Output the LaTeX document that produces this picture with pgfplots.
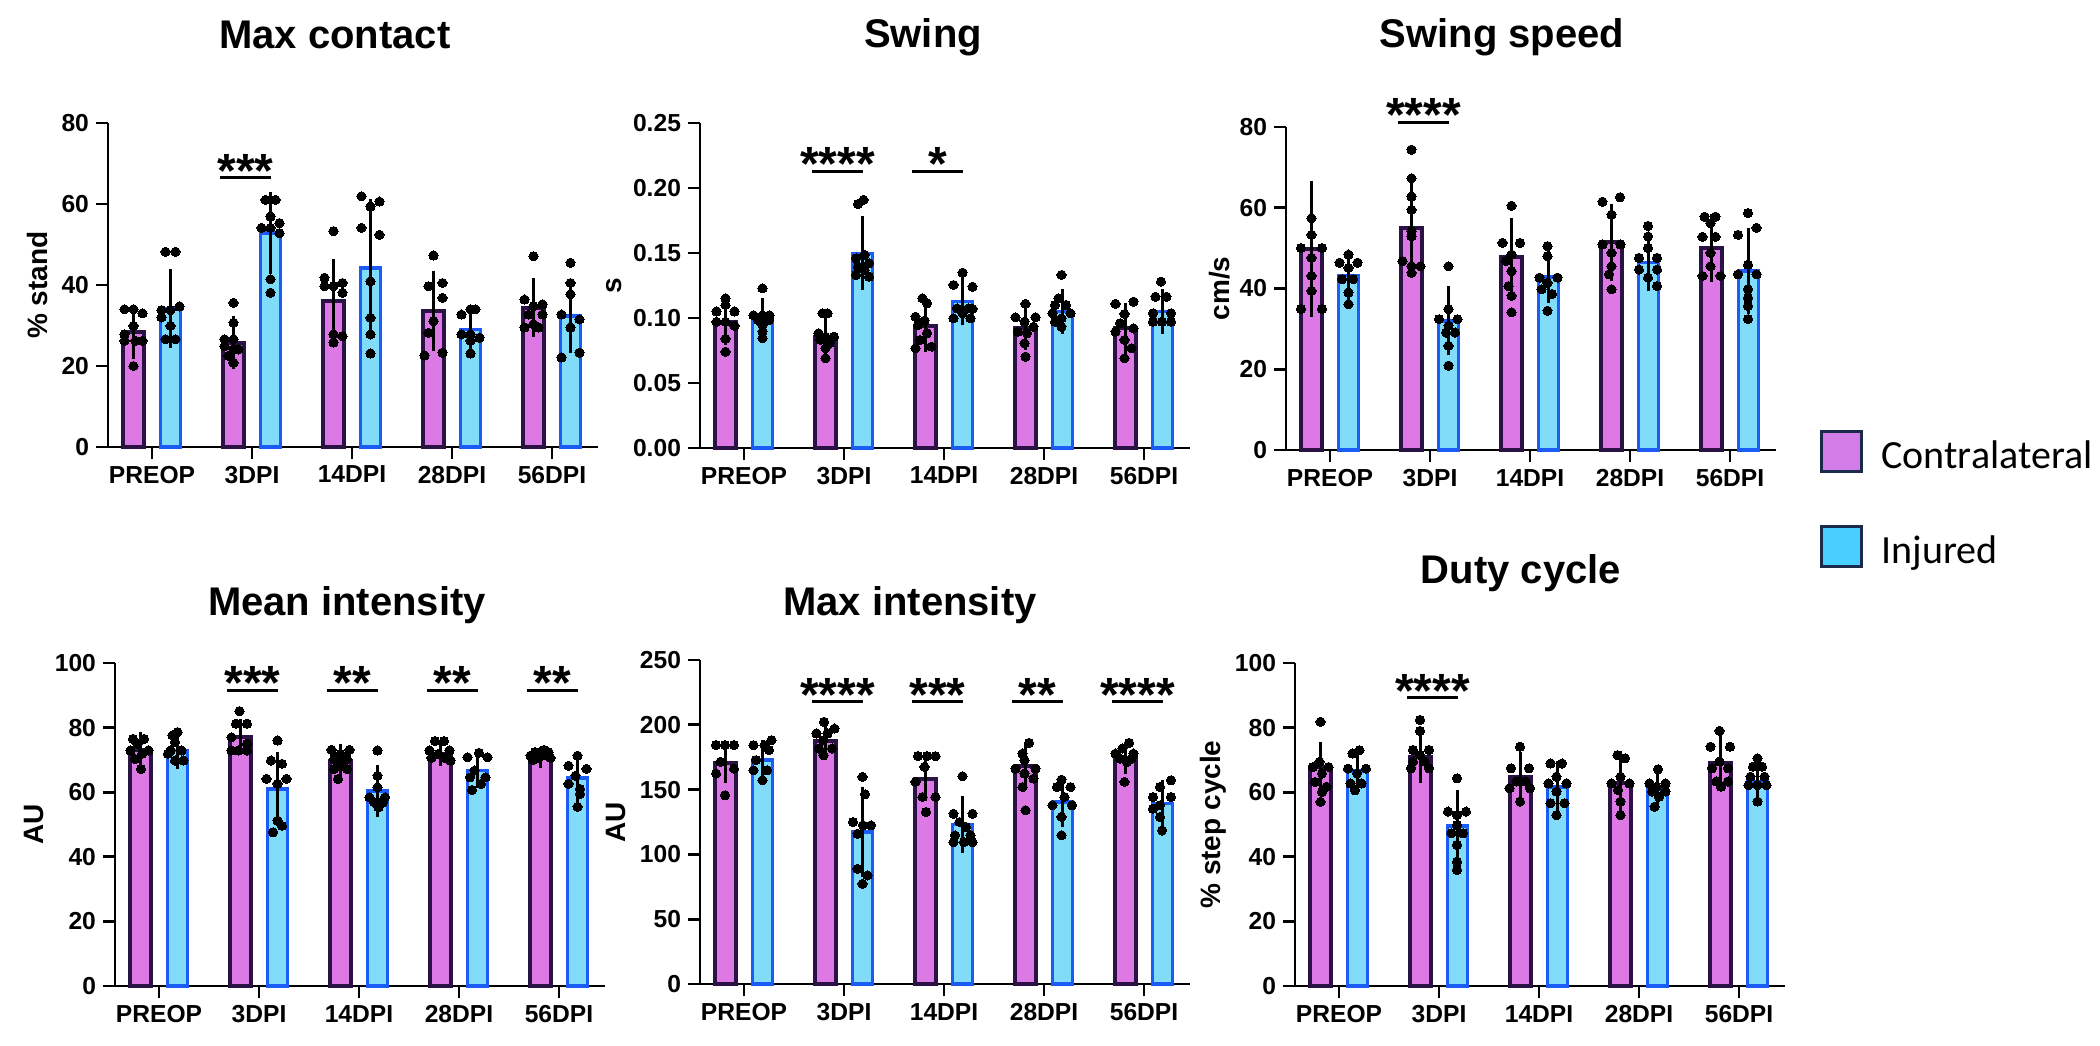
\documentclass[border=0pt]{standalone}
\usepackage{fontspec}
\setmainfont{Liberation Sans}
\newfontfamily\carlito{Carlito}
\usepackage{pgfplots}
\pgfplotsset{compat=1.18}
\usepackage{pgfplotstable}

\definecolor{cfill}{HTML}{DC79E5}
\definecolor{cedge}{HTML}{2A1244}
\definecolor{ifill}{HTML}{80DCF8}
\definecolor{iedge}{HTML}{1A5CF5}
\definecolor{legc}{HTML}{D27CE8}
\definecolor{legi}{HTML}{48CFFD}
\definecolor{legedge}{HTML}{1B2A4A}

% bar tables: bar positions, contralateral mean/sd, injured mean/sd
\pgfplotstableread{
xc xi c cs i is
-0.185 0.185 28.4 5.0 34.2 8.0
0.815 1.185 25.8 4.9 52.8 8.4
1.815 2.185 36.0 8.6 44.2 15.2
2.815 3.185 33.6 8.2 29.0 4.1
3.815 4.185 34.4 5.5 32.3 7.4
}\maxcontact
\pgfplotstableread{
xc xi c cs i is
-0.185 0.185 0.0972 0.0128 0.0985 0.0115
0.815 1.185 0.0856 0.0108 0.1497 0.0231
1.815 2.185 0.0938 0.0142 0.1126 0.0128
2.815 3.185 0.0920 0.0116 0.1049 0.0120
3.815 4.185 0.0920 0.0142 0.1049 0.0120
}\swing
\pgfplotstableread{
xc xi c cs i is
-0.185 0.185 49.8 15.0 43.2 4.4
0.815 1.185 55.0 10.6 32.0 6.8
1.815 2.185 47.8 8.0 42.9 4.7
2.815 3.185 51.4 7.9 46.4 5.3
3.815 4.185 50.0 6.6 44.3 9.0
}\swingspeed
\pgfplotstableread{
xc xi c cs i is
-0.185 0.185 73.1 3.4 72.9 3.6
0.815 1.185 77.2 3.3 61.0 9.3
1.815 2.185 69.6 3.3 60.3 5.9
2.815 3.185 71.9 1.5 66.7 3.3
3.815 4.185 70.8 1.1 64.4 5.2
}\meanint
\pgfplotstableread{
xc xi c cs i is
-0.185 0.185 170.6 9.8 172.7 10.3
0.815 1.185 187.6 9.5 117.3 29.6
1.815 2.185 158.5 11.6 123.2 16.5
2.815 3.185 168.0 12.4 140.4 14.2
3.815 4.185 174.7 7.0 139.2 12.8
}\maxint
\pgfplotstableread{
xc xi c cs i is
-0.185 0.185 67.8 5.7 66.6 4.3
0.815 1.185 71.0 6.0 49.5 9.1
1.815 2.185 64.6 5.6 61.7 5.7
2.815 3.185 62.9 7.6 60.9 2.9
3.815 4.185 69.1 6.5 63.3 4.1
}\duty

\pgfplotsset{
  panel/.style={
    scale only axis, width=245pt, anchor=south west,
    axis lines*=left, axis line style={line width=1.4pt, black},
    tick align=outside, major tick length=6pt,
    tick style={line width=1.4pt, black},
    xmin=-0.44, xmax=4.46, ymin=0,
    xtick={0,1,2,3,4}, xticklabels={PREOP,3DPI,14DPI,28DPI,56DPI},
    ticklabel style={font=\fontsize{12.3}{14}\selectfont\bfseries},
    /pgf/number format/assume math mode=true,
    scaled y ticks=false,
    clip=false,
  },
  ylab/.style={every axis y label/.style={at={(axis description cs:#1,0.5)},
    rotate=90, anchor=center, font=\fontsize{14}{16}\selectfont\bfseries}},
  dots/.style={only marks, mark=*, mark size=2.3pt, black,
    mark options={fill=black, draw=black, line width=0pt}, forget plot},
  errs/.style={draw=none, mark=none, forget plot,
    error bars/.cd, y dir=both, y explicit,
    error bar style={line width=1.1pt, black, solid},
    error mark options={line width=1.1pt, black, mark size=3.5pt, solid}},
}

\newcommand{\bars}[1]{%
  \addplot[ybar, bar width=0.21, bar shift=0pt, fill=cfill, draw=cedge,
    line width=2pt, forget plot] table[x=xc, y=c] {#1};
  \addplot[ybar, bar width=0.2, bar shift=0pt, fill=ifill, draw=iedge,
    line width=1.8pt, forget plot] table[x=xi, y=i] {#1};
  \addplot[errs] table[x=xc, y=c, y error=cs] {#1};
  \addplot[errs] table[x=xi, y=i, y error=is] {#1};
}
% significance bar: left, right, centre, height, stars
\newcommand{\sig}[5]{%
  \draw[line width=1.5pt] (axis cs:#1,#4) -- (axis cs:#2,#4);
  \node[anchor=base, yshift=-4.8pt, inner sep=0pt,
    font=\fontsize{24}{24}\selectfont\bfseries] at (axis cs:#3,#4) {#5};
}

\begin{document}
\begin{tikzpicture}
\useasboundingbox (0,0) rectangle (1050pt,-522.5pt);

\tikzset{ttl/.style={anchor=base, inner sep=0pt, font=\fontsize{20}{22}\selectfont\bfseries}}
\node[ttl] at (167.5pt,-24pt) {Max contact};
\node[ttl] at (461.5pt,-23.5pt) {Swing};
\node[ttl] at (751pt,-23.5pt) {Swing speed};
\node[ttl] at (173.5pt,-307.5pt) {Mean intensity};
\node[ttl] at (455pt,-307.5pt) {Max intensity};
\node[ttl] at (760.5pt,-291.5pt) {Duty cycle};

% Max contact
\begin{axis}[panel, at={(54pt,-223.5pt)}, height=162pt, ymax=80,
  ytick={0,20,40,60,80}, ylabel={\% stand}, ylab=-0.143]
\bars{\maxcontact}
\addplot[dots] coordinates {
(-0.275,34) (-0.185,34) (-0.095,33) (-0.185,29.9) (-0.275,27.8) (-0.275,26.2) (-0.165,26.2) (-0.095,26.2) (-0.185,20)
(0.815,35.6) (0.815,30.7) (0.725,26.6) (0.815,26.6) (0.725,24.9) (0.815,24.1) (0.865,24.1) (0.765,22.5) (0.815,20.8)
(1.815,53.3) (1.725,41.8) (1.905,40.5) (1.725,39.7) (1.815,39.7) (1.905,38.1) (1.815,27.8) (1.905,27.4) (1.815,25.8)
(2.815,47.3) (2.765,39.7) (2.905,40.5) (2.905,36.8) (2.815,31.1) (2.765,28.2) (2.905,23.3) (2.725,22.6)
(3.815,47.1) (3.725,36.4) (3.905,35.2) (3.765,32.7) (3.905,32.7) (3.815,30.3) (3.725,29.5) (3.865,29.5) (3.815,34.8)
};
\addplot[dots] coordinates {
(0.135,48.2) (0.235,48.2) (0.275,34.7) (0.095,33.8) (0.185,33.8) (0.095,32) (0.185,29.9) (0.135,26.6) (0.235,26.6)
(1.135,61) (1.235,61) (1.185,56.9) (1.275,55.3) (1.095,54.1) (1.185,54.1) (1.275,52.8) (1.185,41.4) (1.185,38.1)
(2.095,61.9) (2.275,60.6) (2.185,59.4) (2.095,54.1) (2.275,52.4) (2.185,40.9) (2.185,31.9) (2.185,27.8) (2.185,23.1)
(3.185,34) (3.235,34) (3.095,32.7) (3.095,27.8) (3.185,27.8) (3.275,27) (3.185,26.2) (3.185,23.1)
(4.185,45.5) (4.185,40.5) (4.185,37.7) (4.095,32.7) (4.275,31.5) (4.185,29.5) (4.275,23.3) (4.095,22.1)
};
\sig{0.68}{1.19}{0.935}{66.5}{***}
\end{axis}

% Swing
\begin{axis}[panel, at={(350pt,-224pt)}, height=162.5pt, ymax=0.25,
  ytick={0,0.05,0.1,0.15,0.2,0.25},
  yticklabel style={/pgf/number format/.cd, fixed, fixed zerofill, precision=2},
  ylabel={s}, ylab=-0.175]
\bars{\swing}
\addplot[dots] coordinates {
(-0.185,0.115) (-0.185,0.110) (-0.275,0.105) (-0.095,0.105) (-0.185,0.097) (-0.275,0.097) (-0.095,0.094) (-0.185,0.084) (-0.185,0.074)
(0.785,0.1036) (0.835,0.1036) (0.745,0.0882) (0.815,0.0856) (0.900,0.0856) (0.765,0.0831) (0.855,0.0805) (0.815,0.0767) (0.815,0.069)
(1.785,0.1151) (1.830,0.1113) (1.715,0.101) (1.805,0.098) (1.740,0.0946) (1.830,0.0882) (1.760,0.0831) (1.875,0.078) (1.715,0.0767)
(2.815,0.1108) (2.715,0.1005) (2.915,0.1005) (2.805,0.0972) (2.895,0.0933) (2.740,0.0895) (2.830,0.0882) (2.805,0.0805) (2.815,0.0703)
(3.715,0.1108) (3.895,0.1126) (3.805,0.1031) (3.760,0.0959) (3.895,0.092) (3.715,0.0895) (3.805,0.0831) (3.875,0.0767) (3.805,0.069)
};
\addplot[dots] coordinates {
(0.185,0.1228) (0.095,0.102) (0.185,0.102) (0.255,0.102) (0.140,0.0985) (0.250,0.0985) (0.185,0.0946) (0.185,0.0895) (0.185,0.0844)
(1.195,0.1908) (1.140,0.1877) (1.205,0.1485) (1.120,0.1459) (1.250,0.1421) (1.140,0.1395) (1.205,0.1369) (1.120,0.1331) (1.250,0.1318)
(2.185,0.1349) (2.095,0.1254) (2.285,0.1241) (2.130,0.1074) (2.245,0.1074) (2.185,0.1036) (2.095,0.0997) (2.265,0.0997) (2.285,0.107)
(3.175,0.1331) (3.145,0.1151) (3.110,0.11) (3.220,0.11) (3.085,0.1036) (3.265,0.1036) (3.175,0.0997) (3.110,0.0972) (3.175,0.0933)
(4.170,0.128) (4.115,0.1164) (4.225,0.1164) (4.090,0.1036) (4.270,0.1036) (4.090,0.0972) (4.180,0.0972) (4.270,0.0972)
};
\sig{0.68}{1.19}{0.935}{0.213}{****}
\sig{1.68}{2.19}{1.935}{0.213}{*}
\end{axis}

% Swing speed (with legend)
\begin{axis}[panel, at={(643pt,-225pt)}, height=161.5pt, ymax=80,
  ytick={0,20,40,60,80}, ylabel={cm/s}, ylab=-0.135,
  legend style={at={(1.0898,0.0619)}, anchor=north west, draw=none, fill=none,
    inner sep=0pt, row sep=26pt, column sep=9pt,
    nodes={inner sep=0pt, text depth=0pt},
    font=\carlito\fontsize{20}{22}\selectfont},
  legend cell align=left]
\bars{\swingspeed}
\addplot[dots] coordinates {
(-0.185,57.4) (-0.185,53.3) (-0.290,50) (-0.080,50) (-0.185,47.6) (-0.185,43.1) (-0.185,39.4) (-0.290,34.9) (-0.080,34.9)
(0.815,74.4) (0.815,67.3) (0.815,62.8) (0.815,59.5) (0.815,54.2) (0.815,52.9) (0.725,46.8) (0.815,45.5) (0.905,45.5) (0.815,43.9)
(1.815,60.5) (1.725,51.3) (1.900,51.3) (1.815,48.4) (1.760,46.8) (1.815,44.3) (1.785,40.6) (1.815,38.2) (1.815,34.1)
(2.725,61.5) (2.900,62.6) (2.815,58.3) (2.725,50.9) (2.905,50.9) (2.815,48.8) (2.815,45.5) (2.790,43.5) (2.815,39.8)
(3.745,57.8) (3.855,57.8) (3.805,56.2) (3.725,52.8) (3.855,52.8) (3.805,48.8) (3.805,45.5) (3.725,43.1) (3.905,43.1)
};
\addplot[dots] coordinates {
(0.185,48.4) (0.095,46.4) (0.275,46.4) (0.185,45.1) (0.120,42.3) (0.230,42.3) (0.185,39) (0.185,36.1)
(1.185,45.5) (1.185,34.9) (1.090,32.4) (1.275,32.4) (1.185,30.8) (1.160,29.1) (1.250,29.1) (1.185,25.8) (1.185,20.9)
(2.175,50.5) (2.175,48) (2.095,42.7) (2.275,42.7) (2.175,41.4) (2.115,39.8) (2.220,38.6) (2.175,34.5)
(3.180,55.5) (3.180,52.9) (3.180,50) (3.090,47.6) (3.270,47.6) (3.090,44.7) (3.270,44.7) (3.180,42.7) (3.270,40.6)
(4.180,58.7) (4.265,55) (4.080,53.3) (4.180,45.9) (4.080,43.5) (4.265,43.5) (4.180,39.8) (4.180,37.7) (4.180,35.7) (4.180,32.4)
};
\sig{0.68}{1.19}{0.935}{81.2}{****}
\addlegendimage{legend image code/.code={\draw[line width=1.5pt, draw=legedge, fill=legc] (0pt,-8.5pt) rectangle (20pt,11.5pt);}}
\addlegendentry{Contralateral}
\addlegendimage{legend image code/.code={\draw[line width=1.5pt, draw=legedge, fill=legi] (0pt,-8.5pt) rectangle (20pt,11.5pt);}}
\addlegendentry{Injured}
\end{axis}

% Mean intensity
\begin{axis}[panel, at={(57.5pt,-493pt)}, height=161.5pt, ymax=100,
  ytick={0,20,40,60,80,100}, ylabel={AU}, ylab=-0.166]
\bars{\meanint}
\addplot[dots] coordinates {
(-0.260,76.5) (-0.150,76.5) (-0.215,75) (-0.285,72.9) (-0.105,72.9) (-0.170,71.9) (-0.240,70.3) (-0.180,67.2)
(0.805,85.1) (0.770,81.2) (0.880,81.2) (0.725,77) (0.880,75) (0.725,72.9) (0.795,72.9) (0.880,72.9)
(1.725,73.1) (1.905,73.1) (1.815,71.9) (1.750,70.3) (1.880,70.3) (1.815,68.8) (1.750,67.2) (1.880,67.2) (1.790,64.1)
(2.760,75.8) (2.850,75.8) (2.705,72.9) (2.905,72.9) (2.795,71.9) (2.725,70.6) (2.860,70.6) (2.915,69.8)
(3.850,73.1) (3.760,72.4) (3.895,72.4) (3.715,71.3) (3.830,71.3) (3.785,70.6) (3.915,70.6) (3.740,70)
};
\addplot[dots] coordinates {
(0.185,78.6) (0.135,77.6) (0.160,75.5) (0.115,72.9) (0.225,72.9) (0.090,71.9) (0.160,69.8) (0.245,69.8)
(1.185,76) (1.120,69.8) (1.230,68.8) (1.075,64.1) (1.275,64.1) (1.185,62.6) (1.185,51.2) (1.230,49.6) (1.140,47.6)
(2.185,72.9) (2.185,65.1) (2.185,61.5) (2.105,58.4) (2.260,58.4) (2.150,56.9) (2.240,56.9) (2.195,55.3)
(3.200,72.2) (3.085,70.8) (3.285,70.8) (3.155,66.7) (3.110,64.6) (3.265,64.6) (3.220,62.6) (3.130,60.7)
(4.185,71.3) (4.095,68.2) (4.275,67.2) (4.165,65.1) (4.095,62.6) (4.210,61) (4.210,59.5) (4.185,55.5)
};
\sig{0.68}{1.19}{0.935}{91.6}{***}
\sig{1.68}{2.19}{1.935}{91.6}{**}
\sig{2.68}{3.19}{2.935}{91.6}{**}
\sig{3.68}{4.19}{3.935}{91.6}{**}
\end{axis}

% Max intensity
\begin{axis}[panel, at={(350pt,-492pt)}, height=162pt, ymax=250,
  ytick={0,50,100,150,200,250}, ylabel={AU}, ylab=-0.171]
\bars{\maxint}
\addplot[dots] coordinates {
(-0.280,184.3) (-0.190,184.3) (-0.100,184.3) (-0.235,171.4) (-0.100,166.2) (-0.280,162.4) (-0.190,145.6)
(0.800,202.3) (0.905,197.1) (0.725,193.3) (0.835,193.3) (0.795,188.1) (0.750,181.7) (0.880,181.7) (0.795,176.5)
(1.740,175.8) (1.830,175.8) (1.915,175.8) (1.805,167.5) (1.715,155.9) (1.785,144.3) (1.915,144.3) (1.820,132.7)
(2.850,186.1) (2.785,177.8) (2.805,172.7) (2.715,166.2) (2.915,166.2) (2.805,162.4) (2.895,158.5) (2.785,152) (2.815,134)
(3.850,186.1) (3.785,181.7) (3.715,177.8) (3.895,177.8) (3.760,173.9) (3.875,173.9) (3.830,171.4) (3.805,155.9)
};
\addplot[dots] coordinates {
(0.275,188.1) (0.095,184.3) (0.205,184.3) (0.250,180.4) (0.120,172.7) (0.095,164.9) (0.230,164.9) (0.185,157.2)
(1.185,159.8) (1.210,146.4) (1.090,125) (1.190,122.4) (1.270,122.4) (1.135,116) (1.135,88.9) (1.235,83.8) (1.185,77.3)
(2.185,160.3) (2.095,131.4) (2.285,131.4) (2.155,125) (2.220,121.1) (2.110,114.7) (2.265,114.7) (2.095,109.5) (2.200,109.5) (2.285,109.5)
(3.175,157.7) (3.130,152) (3.265,152) (3.205,144.3) (3.085,137.9) (3.280,137.9) (3.175,128.9) (3.175,114.7)
(4.270,157.2) (4.160,152) (4.090,144.3) (4.270,144.3) (4.160,137.9) (4.090,135.3) (4.160,128.9) (4.180,118.5)
};
\sig{0.68}{1.19}{0.935}{218}{****}
\sig{1.68}{2.19}{1.935}{218}{***}
\sig{2.68}{3.19}{2.935}{218}{**}
\sig{3.68}{4.19}{3.935}{218}{****}
\end{axis}

% Duty cycle
\begin{axis}[panel, at={(647.5pt,-493pt)}, height=161.5pt, ymax=100,
  ytick={0,20,40,60,80,100}, ylabel={\% step cycle}, ylab=-0.167]
\bars{\duty}
\addplot[dots] coordinates {
(-0.185,81.8) (-0.260,67.8) (-0.105,67.8) (-0.170,65.8) (-0.240,63.2) (-0.125,61.7) (-0.170,60.1) (-0.185,57) (-0.195,69.4)
(0.810,82.4) (0.810,79) (0.740,73.1) (0.900,73.1) (0.810,71.5) (0.740,69.5) (0.855,69.5) (0.720,67.4) (0.900,67.4)
(1.810,74.1) (1.720,67.4) (1.900,67.4) (1.775,63.3) (1.865,63.3) (1.705,61.2) (1.910,61.2) (1.810,57.1)
(2.785,71.5) (2.860,70.5) (2.815,64.8) (2.725,62.7) (2.905,62.7) (2.790,60.7) (2.815,57.1) (2.815,52.9)
(3.805,79) (3.715,74.1) (3.910,74.1) (3.805,69.5) (3.730,67.4) (3.890,67.4) (3.775,63.3) (3.890,63.3) (3.820,61.7)
};
\addplot[dots] coordinates {
(0.205,73) (0.135,72) (0.090,67.3) (0.270,67.3) (0.180,65.8) (0.115,62.7) (0.225,62.7) (0.160,60.6)
(1.180,64.3) (1.090,54) (1.270,54) (1.180,52.9) (1.180,49.8) (1.125,47.3) (1.240,47.3) (1.180,43.7) (1.180,38.5) (1.180,35.9)
(2.115,68.9) (2.230,68.9) (2.175,64.8) (2.095,62.7) (2.275,62.7) (2.175,60.2) (2.115,56.6) (2.255,56.6) (2.175,52.9)
(3.190,67.1) (3.105,62.7) (3.265,62.7) (3.175,61.7) (3.130,60.2) (3.265,60.2) (3.200,58.6) (3.155,55.5)
(4.185,70.5) (4.140,67.9) (4.230,67.9) (4.115,64.8) (4.255,64.8) (4.095,62.2) (4.185,62.2) (4.275,62.2) (4.185,57.1)
};
\sig{0.68}{1.19}{0.935}{89.2}{****}
\end{axis}
\end{tikzpicture}
\end{document}
